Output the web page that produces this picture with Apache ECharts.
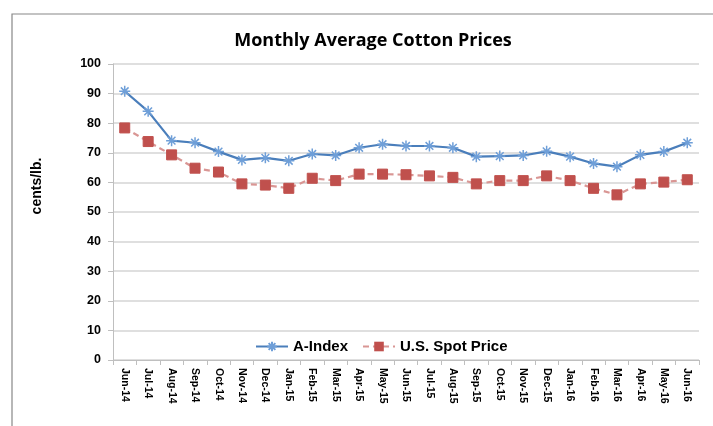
<!DOCTYPE html>
<html>
<head>
<meta charset="utf-8">
<script src="https://cdn.jsdelivr.net/npm/echarts@6/dist/echarts.min.js"></script>
<style>html,body{margin:0;padding:0;background:#fff}#c{width:713px;height:426px}</style>
</head>
<body>
<div id="c"></div>
<script>
var categories = ["Jun-14","Jul-14","Aug-14","Sep-14","Oct-14","Nov-14","Dec-14","Jan-15","Feb-15","Mar-15","Apr-15","May-15","Jun-15","Jul-15","Aug-15","Sep-15","Oct-15","Nov-15","Dec-15","Jan-16","Feb-16","Mar-16","Apr-16","May-16","Jun-16"];
var aIndex = [90.8,84.0,74.1,73.4,70.4,67.6,68.3,67.3,69.6,69.1,71.7,72.9,72.3,72.3,71.7,68.7,68.9,69.1,70.5,68.7,66.4,65.3,69.3,70.4,73.4];
var usSpot = [78.4,73.8,69.3,64.8,63.5,59.5,59.1,58.0,61.4,60.6,62.8,62.8,62.6,62.2,61.7,59.5,60.6,60.6,62.2,60.6,58.0,55.8,59.5,60.1,60.9];
var yTicks = {min:0, max:100, interval:10};
var yName = 'cents/lb.';

var chart = echarts.init(document.getElementById('c'));
chart.setOption({
  animation:false,
  backgroundColor:'#fff',
  title:{text:'Monthly Average Cotton Prices', left:368, top:27, textAlign:'center',
    textStyle:{fontFamily:'Open Sans', fontWeight:'bold', fontSize:18, color:'#000'}},
  graphic:[
    {type:'rect', shape:{x:12, y:14, width:720, height:430}, style:{fill:'none', stroke:'#888', lineWidth:1.2}, silent:true},
    {type:'text', x:37, y:186, rotation:Math.PI/2, style:{text:yName, fill:'#000', font:'bold 14px "Liberation Sans"', align:'center', verticalAlign:'middle'}, silent:true}
  ],
  grid:{left:113, right:14, top:64, bottom:66, outerBoundsMode:'none', containLabel:false},
  legend:{left:250, top:334, itemGap:14, itemWidth:32, itemHeight:12,
    textStyle:{fontFamily:'Liberation Sans', fontWeight:'bold', fontSize:15, color:'#000'},
    data:['A-Index','U.S. Spot Price']},
  xAxis:{type:'category', data:categories, boundaryGap:true,
    axisLine:{lineStyle:{color:'#bfbfbf', width:1}},
    axisTick:{show:true, length:5, lineStyle:{color:'#bfbfbf'}},
    axisLabel:{rotate:-90, interval:0, margin:8, fontFamily:'Liberation Sans', fontWeight:'bold', fontSize:10.5, color:'#000'}},
  yAxis:{type:'value', min:yTicks.min, max:yTicks.max, interval:yTicks.interval,
    axisLine:{show:true, lineStyle:{color:'#bfbfbf'}},
    axisTick:{show:true, length:5, lineStyle:{color:'#bfbfbf'}},
    splitLine:{lineStyle:{color:'#d4d4d4', width:1.5}},
    axisLabel:{margin:12, fontFamily:'Liberation Sans', fontWeight:'bold', fontSize:12.5, color:'#000'}},
  series:[
    {name:'A-Index', type:'line', data:aIndex, symbol:'path://M0,-10L0,10M-10,0L10,0M-7,-7L7,7M-7,7L7,-7', symbolSize:11,
      lineStyle:{color:'#4a7ebb', width:2.2}, itemStyle:{color:'#4a7ebb', borderColor:'#6f9fd8', borderWidth:1.5}},
    {name:'U.S. Spot Price', type:'line', data:usSpot, symbol:'rect', symbolSize:10,
      lineStyle:{color:'#d99694', width:2.2, type:[6,4]}, itemStyle:{color:'#c0504d', borderColor:'#c0504d'}}
  ]
});
</script>
</body>
</html>
